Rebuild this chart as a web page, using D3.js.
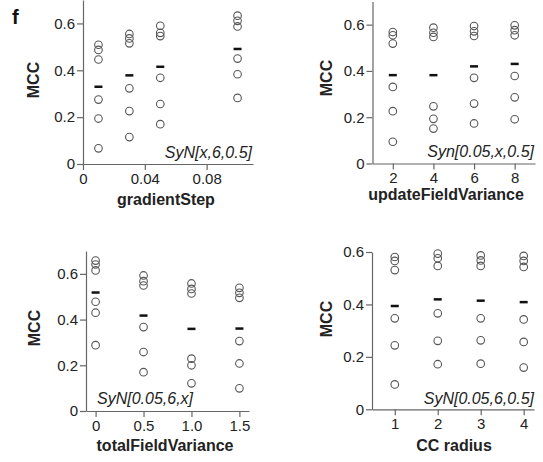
<!DOCTYPE html>
<html>
<head>
<meta charset="utf-8">
<script src="https://d3js.org/d3.v7.min.js"></script>
<style>
  body { margin: 0; background: #fff; }
  svg { display: block; font-family: "Liberation Sans", Arial, sans-serif; }
  .tick text { fill: #222; }
</style>
</head>
<body>
<div id="chart"></div>
<script>
// ---- data ----
const gradientStep = [0.01, 0.03, 0.05, 0.1];
const gradientStepMCC = [
  [0.509, 0.487, 0.446, 0.275, 0.194, 0.067],
  [0.555, 0.536, 0.515, 0.323, 0.226, 0.115],
  [0.590, 0.560, 0.546, 0.368, 0.256, 0.170],
  [0.633, 0.611, 0.587, 0.450, 0.383, 0.282]
];
const gradientStepTicks = [0, 0.04, 0.08];
const gradientStepTickLabels = ["0", "0.04", "0.08"];

const updateFieldVariance = [2, 4, 6, 8];
const updateFieldVarianceMCC = [
  [0.568, 0.554, 0.518, 0.331, 0.226, 0.094],
  [0.587, 0.565, 0.547, 0.247, 0.193, 0.151],
  [0.594, 0.571, 0.551, 0.370, 0.259, 0.173],
  [0.597, 0.576, 0.554, 0.378, 0.286, 0.191]
];
const updateFieldVarianceTicks = [2, 4, 6, 8];
const updateFieldVarianceTickLabels = ["2", "4", "6", "8"];

const totalFieldVariance = [0, 0.5, 1.0, 1.5];
const totalFieldVarianceMCC = [
  [0.658, 0.641, 0.615, 0.478, 0.430, 0.288],
  [0.593, 0.568, 0.549, 0.367, 0.258, 0.170],
  [0.558, 0.534, 0.514, 0.229, 0.200, 0.121],
  [0.539, 0.517, 0.495, 0.306, 0.208, 0.099]
];
const totalFieldVarianceTicks = [0, 0.5, 1.0, 1.5];
const totalFieldVarianceTickLabels = ["0", "0.5", "1.0", "1.5"];

const ccRadius = [1, 2, 3, 4];
const ccRadiusMCC = [
  [0.581, 0.566, 0.531, 0.347, 0.244, 0.095],
  [0.594, 0.576, 0.547, 0.366, 0.261, 0.172],
  [0.587, 0.568, 0.547, 0.347, 0.263, 0.174],
  [0.585, 0.566, 0.543, 0.343, 0.257, 0.159]
];
const ccRadiusTicks = [1, 2, 3, 4];
const ccRadiusTickLabels = ["1", "2", "3", "4"];

const mccTicks = [0, 0.2, 0.4, 0.6];
const mccTickLabels = ["0", "0.2", "0.4", "0.6"];

// ---- panel layout ----
const panels = [
  { xs: gradientStep, ys: gradientStepMCC, xTicks: gradientStepTicks, xLabels: gradientStepTickLabels,
    xDomain: [0, 0.11], xRange: [83, 253], yDomain: [0, 0.7], yRange: [164, 0],
    xTitle: "gradientStep", xTitleX: 166, xTitleY: 205, yTitleX: 39, yTitleY: 80,
    note: "SyN[x,6,0.5]", noteX: 252, noteY: 158, noteAnchor: "end" },
  { xs: updateFieldVariance, ys: updateFieldVarianceMCC, xTicks: updateFieldVarianceTicks, xLabels: updateFieldVarianceTickLabels,
    xDomain: [1, 9], xRange: [372.5, 535], yDomain: [0, 0.7], yRange: [163.5, 1.5],
    xTitle: "updateFieldVariance", xTitleX: 446, xTitleY: 200, yTitleX: 332, yTitleY: 78,
    note: "Syn[0.05,x,0.5]", noteX: 534, noteY: 157, noteAnchor: "end" },
  { xs: totalFieldVariance, ys: totalFieldVarianceMCC, xTicks: totalFieldVarianceTicks, xLabels: totalFieldVarianceTickLabels,
    xDomain: [-0.1, 1.6], xRange: [86, 249], yDomain: [0, 0.7], yRange: [411, 251],
    xTitle: "totalFieldVariance", xTitleX: 165, xTitleY: 451, yTitleX: 40, yTitleY: 328,
    note: "SyN[0.05,6,x]", noteX: 97, noteY: 404, noteAnchor: "start" },
  { xs: ccRadius, ys: ccRadiusMCC, xTicks: ccRadiusTicks, xLabels: ccRadiusTickLabels,
    xDomain: [0.47, 4.24], xRange: [372, 534], yDomain: [0, 0.6], yRange: [409.3, 252],
    xTitle: "CC radius", xTitleX: 454, xTitleY: 451, yTitleX: 332, yTitleY: 319,
    note: "SyN[0.05,6,0.5]", noteX: 534, noteY: 404, noteAnchor: "end" }
];

const svg = d3.select("#chart").append("svg")
  .attr("width", 543)
  .attr("height", 462);

svg.append("text")
  .attr("x", 12).attr("y", 24)
  .style("font-size", "20px").style("font-weight", "bold")
  .attr("fill", "#111")
  .text("f");

panels.forEach(function (p) {
  const x = d3.scaleLinear().domain(p.xDomain).range(p.xRange);
  const y = d3.scaleLinear().domain(p.yDomain).range(p.yRange);
  const g = svg.append("g");

  // axes
  const xAxis = g.append("g")
    .attr("transform", `translate(0,${p.yRange[0]})`)
    .call(d3.axisBottom(x).tickValues(p.xTicks)
      .tickFormat((d, i) => p.xLabels[i]).tickSize(6).tickPadding(3).tickSizeOuter(0));
  const yAxis = g.append("g")
    .attr("transform", `translate(${p.xRange[0]},0)`)
    .call(d3.axisLeft(y).tickValues(mccTicks)
      .tickFormat((d, i) => mccTickLabels[i]).tickSize(6).tickPadding(2).tickSizeOuter(0));
  [xAxis, yAxis].forEach(function (a) {
    a.selectAll("path, line").attr("stroke", "#666").attr("stroke-width", 1.2);
    a.selectAll("text").style("font-size", "15px").attr("fill", "#222");
  });

  // circles for each replicate
  const points = [];
  p.xs.forEach(function (xv, i) {
    p.ys[i].forEach(function (yv) { points.push({ x: xv, y: yv }); });
  });
  g.selectAll("circle")
    .data(points)
    .enter().append("circle")
    .attr("cx", d => x(d.x))
    .attr("cy", d => y(d.y))
    .attr("r", 3.8)
    .attr("fill", "none")
    .attr("stroke", "#555")
    .attr("stroke-width", 1.1);

  // mean dash
  const means = p.xs.map((xv, i) => ({ x: xv, m: d3.mean(p.ys[i]) }));
  g.selectAll("line.mean")
    .data(means)
    .enter().append("line")
    .attr("class", "mean")
    .attr("x1", d => x(d.x) - 4)
    .attr("x2", d => x(d.x) + 4)
    .attr("y1", d => y(d.m))
    .attr("y2", d => y(d.m))
    .attr("stroke", "#111")
    .attr("stroke-width", 2.5);

  // titles
  g.append("text")
    .attr("x", p.xTitleX).attr("y", p.xTitleY)
    .attr("text-anchor", "middle")
    .style("font-size", "16px").style("font-weight", "bold")
    .attr("fill", "#222")
    .text(p.xTitle);
  g.append("text")
    .attr("transform", `translate(${p.yTitleX},${p.yTitleY}) rotate(-90)`)
    .attr("text-anchor", "middle")
    .style("font-size", "16px").style("font-weight", "bold")
    .attr("fill", "#222")
    .text("MCC");
  g.append("text")
    .attr("x", p.noteX).attr("y", p.noteY)
    .attr("text-anchor", p.noteAnchor)
    .style("font-size", "16px").style("font-style", "italic")
    .attr("fill", "#222")
    .text(p.note);
});
</script>
</body>
</html>
